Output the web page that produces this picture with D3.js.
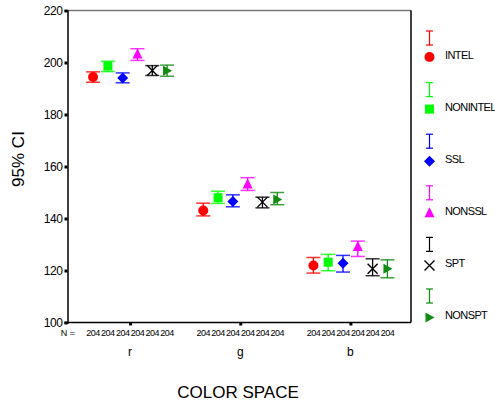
<!DOCTYPE html>
<html><head><meta charset="utf-8">
<script src="https://cdn.jsdelivr.net/npm/d3@7"></script>
<style>body{margin:0;background:#fff}svg{display:block;font-family:"Liberation Sans",Arial,sans-serif}</style>
</head><body><svg id="c" width="495" height="404"></svg>
<script>
const categories = ["r", "g", "b"];
const seriesNames = ["INTEL", "NONINTEL", "SSL", "NONSSL", "SPT", "NONSPT"];
const seriesColors = ["#ff0000", "#00ff00", "#0000ff", "#ff00ff", "#000000", "#108a10"];
const seriesShapes = ["circle", "square", "diamond", "triangle", "x", "triright"];
const means = [
  [194.4, 143.1, 121.9],
  [198.6, 148.0, 123.2],
  [194.0, 146.5, 122.8],
  [203.1, 153.1, 129.0],
  [196.9, 146.3, 120.7],
  [196.8, 147.3, 120.7]
];
const lower = [
  [192.4, 141.0, 119.0],
  [196.5, 145.8, 119.9],
  [192.2, 144.5, 119.4],
  [200.8, 150.8, 125.4],
  [195.0, 144.1, 118.0],
  [194.7, 145.3, 117.2]
];
const upper = [
  [196.4, 145.9, 125.0],
  [200.5, 150.5, 126.2],
  [196.0, 149.1, 125.8],
  [205.3, 155.7, 131.3],
  [198.8, 148.2, 124.5],
  [199.0, 150.0, 124.1]
];
const nValues = [204, 204, 204, 204, 204, 204];
const yTicks = [100, 120, 140, 160, 180, 200, 220];

const svg = d3.select("#c");
const L = 67.5, R = 411, T = 10.5, B = 322.5;
const y = d3.scaleLinear().domain([100, 220]).range([B, T]);
const x = d3.scalePoint().domain(categories).range([L + 2, R]).padding(0.55);
const off = d3.scalePoint().domain(seriesNames).range([-37, 37]);

// frame
svg.append("line").attr("x1", L).attr("x2", R).attr("y1", T).attr("y2", T).attr("stroke", "#777").attr("stroke-width", 1.5);
svg.append("line").attr("x1", R).attr("x2", R).attr("y1", T).attr("y2", B).attr("stroke", "#000").attr("stroke-width", 1.5);

// y axis
const ya = d3.axisLeft(y).tickValues(yTicks).tickSize(3).tickPadding(2);
const gy = svg.append("g").attr("transform", `translate(${L},0)`).call(ya);
gy.select(".domain").attr("stroke", "#000").attr("stroke-width", 1.5);
gy.selectAll(".tick line").attr("stroke", "#000").attr("stroke-width", 3);
gy.selectAll(".tick text").attr("font-size", 12).attr("font-family", "Liberation Sans, Arial").attr("fill", "#000").attr("letter-spacing", -0.4);

// x axis
const xa = d3.axisBottom(x).tickSize(3).tickFormat("");
const gx = svg.append("g").attr("transform", `translate(0,${B})`).call(xa);
gx.select(".domain").attr("stroke", "#000").attr("stroke-width", 1.5).attr("d", `M${L - 3},0H${R}`);
gx.selectAll(".tick line").attr("stroke", "#000").attr("stroke-width", 3);

// category labels
svg.selectAll(".cat").data(categories).join("text")
  .attr("x", d => x(d)).attr("y", 356).attr("text-anchor", "middle")
  .attr("font-size", 12).text(d => d);

// N labels
svg.append("text").attr("x", 68).attr("y", 336).attr("text-anchor", "middle").attr("font-size", 9).text("N =");
categories.forEach(c => {
  seriesNames.forEach((s, i) => {
    svg.append("text").attr("x", x(c) + off(s)).attr("y", 336).attr("text-anchor", "middle")
      .attr("font-size", 9).attr("letter-spacing", -0.5).text(nValues[i]);
  });
});

function marker(g, shape, color, cx, cy) {
  if (shape === "circle") g.append("circle").attr("cx", cx).attr("cy", cy).attr("r", 5).attr("fill", color);
  else if (shape === "square") g.append("rect").attr("x", cx - 4.5).attr("y", cy - 4.5).attr("width", 9).attr("height", 9).attr("fill", color);
  else if (shape === "diamond") g.append("path").attr("d", `M${cx},${cy - 5.5}L${cx + 5.5},${cy}L${cx},${cy + 5.5}L${cx - 5.5},${cy}Z`).attr("fill", color);
  else if (shape === "triangle") g.append("path").attr("d", `M${cx},${cy - 6}L${cx + 5},${cy + 4}L${cx - 5},${cy + 4}Z`).attr("fill", color);
  else if (shape === "x") g.append("path").attr("d", `M${cx - 5},${cy - 5}L${cx + 5},${cy + 5}M${cx - 5},${cy + 5}L${cx + 5},${cy - 5}`).attr("stroke", color).attr("stroke-width", 1.4).attr("fill", "none");
  else if (shape === "triright") g.append("path").attr("d", `M${cx - 4},${cy - 5}L${cx + 5},${cy}L${cx - 4},${cy + 5}Z`).attr("fill", color);
}

// error bars
seriesNames.forEach((s, i) => {
  const g = svg.append("g");
  categories.forEach((c, j) => {
    const cx = x(c) + off(s);
    const col = seriesColors[i];
    const y1 = y(lower[i][j]), y2 = y(upper[i][j]);
    g.append("line").attr("x1", cx).attr("x2", cx).attr("y1", y1).attr("y2", y2).attr("stroke", col).attr("stroke-width", 1.3);
    [y1, y2].forEach(yy => g.append("line").attr("x1", cx - 7).attr("x2", cx + 7).attr("y1", yy).attr("y2", yy).attr("stroke", col).attr("stroke-width", 1.5).attr("opacity", 0.8));
    marker(g, seriesShapes[i], col, cx, y(means[i][j]));
  });
});

// legend
const legX = 429.5, legTextX = 445;
seriesNames.forEach((s, i) => {
  const col = seriesColors[i];
  const iy = 38 + i * 51.6;
  const my = 57 + i * 52.1;
  svg.append("line").attr("x1", legX).attr("x2", legX).attr("y1", iy - 7).attr("y2", iy + 7).attr("stroke", col).attr("stroke-width", 1.2);
  [iy - 7, iy + 7].forEach(yy => svg.append("line").attr("x1", legX - 3.5).attr("x2", legX + 3.5).attr("y1", yy).attr("y2", yy).attr("stroke", col).attr("stroke-width", 1.2));
  marker(svg, seriesShapes[i], col, legX, my);
  svg.append("text").attr("x", legTextX).attr("y", my - 2).attr("dy", "0.35em").attr("font-size", 11).attr("letter-spacing", -0.6).text(s);
});

// axis titles
svg.append("text").attr("transform", "translate(24,159) rotate(-90)").attr("text-anchor", "middle").attr("font-size", 17).text("95% CI");
svg.append("text").attr("x", 238).attr("y", 398).attr("text-anchor", "middle").attr("font-size", 17).text("COLOR SPACE");
</script></body></html>
